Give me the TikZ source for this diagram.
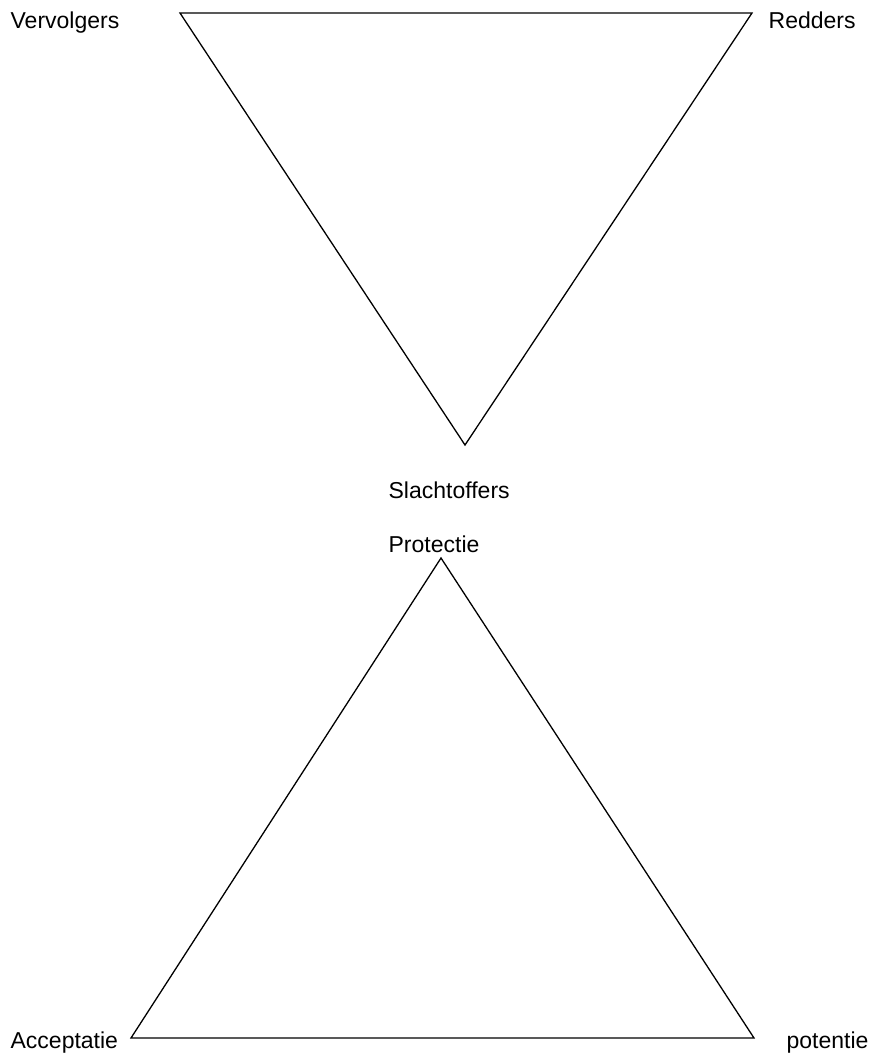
\documentclass[tikz,border=0pt]{standalone}
\usepackage{fontspec}
\setmainfont{Liberation Sans}
\usepackage{tikz}
\usetikzlibrary{positioning}

\begin{document}
\begin{tikzpicture}[x=1pt,y=-1pt,line width=1.3pt,
    lbl/.style={anchor=base west,inner sep=0pt,font=\fontsize{23}{27}\selectfont}]
   \useasboundingbox (0,0) rectangle (872,1055);
   % drama triangle
   \coordinate (t_vv) at (180,13);
   \coordinate (t_rd) at (752,13);
   \coordinate (t_sl) at (465,445);
   \draw (t_vv) -- (t_rd) -- (t_sl) -- cycle;
   % winner triangle
   \coordinate (w_pr) at (441,558);
   \coordinate (w_ac) at (131,1038);
   \coordinate (w_po) at (754,1038);
   \draw (w_pr) -- (w_po) -- (w_ac) -- cycle;
   % labels
   \node[lbl] (l_vv) at (10,28)   {Vervolgers};
   \node[lbl] (l_rd) at (768,28)  {Redders};
   \node[lbl] (l_sl) at (388,498) {Slachtoffers};
   \node[lbl] (l_pr) at (388,552) {Protectie};
   \node[lbl] (l_ac) at (10,1048) {Acceptatie};
   \node[lbl] (l_po) at (786,1048) {potentie};
\end{tikzpicture}
\end{document}
